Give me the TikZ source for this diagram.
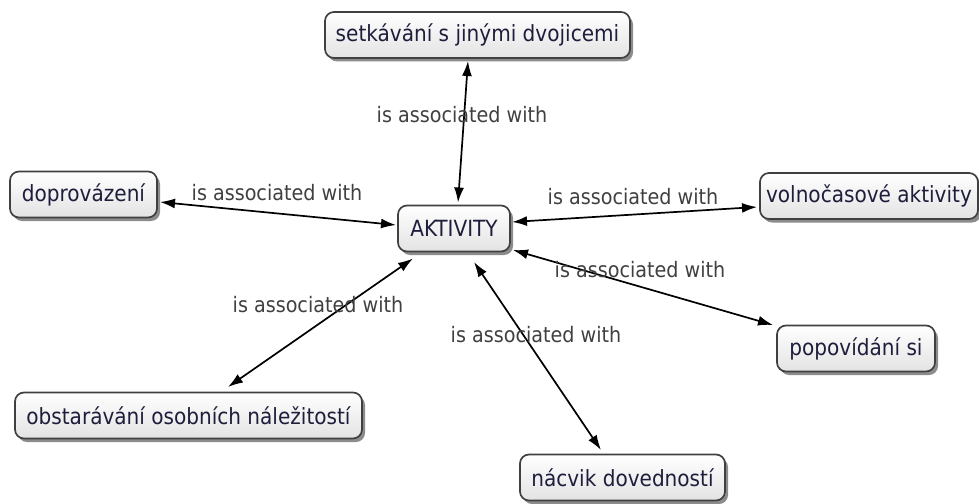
\documentclass[tikz,border=0pt]{standalone}
\usepackage{fontspec}
\setmainfont{DejaVu Sans Condensed}
\usetikzlibrary{arrows.meta,shadows,calc}
\definecolor{nodetext}{HTML}{1E1E3C}
\definecolor{labeltext}{HTML}{404040}
\definecolor{border}{HTML}{404040}
\begin{document}
\begin{tikzpicture}[x=1pt,y=-1pt,
  concept/.style={draw=border, line width=1.7pt, rounded corners=9pt,
    top color=white, bottom color=black!11, minimum height=46pt,
    inner sep=0pt, font=\fontsize{22.3}{26}\selectfont, text=nodetext,
    drop shadow={shadow xshift=3pt, shadow yshift=-3.5pt, opacity=0.6, fill=black!75}},
  linklabel/.style={font=\fontsize{21.3}{25}\selectfont, text=labeltext, inner sep=0pt},
  link/.style={line width=1.7pt, {Latex[length=15pt,width=10pt]}-{Latex[length=15pt,width=10pt]}}
]
\useasboundingbox (0,0) rectangle (979,503);
\node[concept, minimum width=112pt] (akt) at (454,228.5) {AKTIVITY};
\node[concept, minimum width=305pt] (set) at (477.5,35) {setkávání s jinými dvojicemi};
\node[concept, minimum width=147pt] (dop) at (83.5,194.5) {doprovázení};
\node[concept, minimum width=218pt] (vol) at (869,196) {volnočasové aktivity};
\node[concept, minimum width=158pt] (pop) at (856,348.5) {popovídání si};
\node[concept, minimum width=205pt] (nac) at (622.5,477.5) {nácvik dovedností};
\node[concept, minimum width=347pt] (obs) at (188.5,415.5) {obstarávání osobních náležitostí};

\draw[link] ($(akt.center)+(4,-26)$) -- ($(set.center)+(-9.5,26)$);
\draw[link] ($(akt.center)+(-58,-3.5)$) -- ($(dop.center)+(76.5,7.5)$);
\draw[link] ($(akt.center)+(58,-6.5)$) -- ($(vol.center)+(-112,11)$);
\draw[link] ($(akt.center)+(59,21.5)$) -- ($(pop.center)+(-83,-23.5)$);
\draw[link] ($(akt.center)+(-41,30)$) -- ($(obs.center)+(39.5,-28.5)$);
\draw[link] ($(akt.center)+(20,33.5)$) -- ($(nac.center)+(-21.5,-27.5)$);

\node[linklabel] (l1) at (462,115) {is associated with};
\node[linklabel] (l2) at (277,193) {is associated with};
\node[linklabel] (l3) at (633,197) {is associated with};
\node[linklabel] (l4) at (640,270) {is associated with};
\node[linklabel] (l5) at (318,305) {is associated with};
\node[linklabel] (l6) at (536,335) {is associated with};
\end{tikzpicture}
\end{document}
